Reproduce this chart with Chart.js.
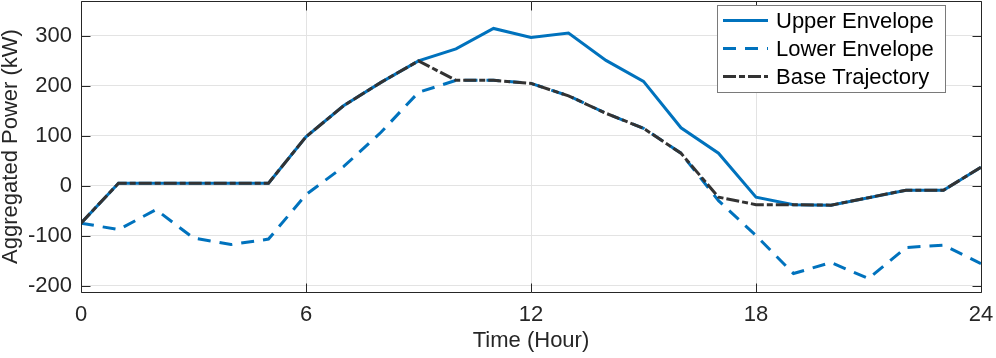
<!DOCTYPE html>
<html>
<head>
<meta charset="utf-8">
<script src="https://cdn.jsdelivr.net/npm/chart.js@4.4.1/dist/chart.umd.min.js"></script>
<style>
  html, body { margin: 0; padding: 0; background: #fff; }
  #wrap { width: 996px; height: 358px; }
</style>
</head>
<body>
<div id="wrap"><canvas id="c" width="996" height="358"></canvas></div>
<script>
const hours = [0,1,2,3,4,5,6,7,8,9,10,11,12,13,14,15,16,17,18,19,20,21,22,23,24];
const upperEnvelope = [-75, 5, 5, 5, 5, 5, 98, 160, 207, 250, 274, 315, 297, 306, 251, 209, 116, 65, -23, -38, -39, -24, -9, -9, 37];
const lowerEnvelope = [-75, -88, -48, -105, -118, -107, -18, 38, 107, 187, 211, 211, 205, 180, 145, 115, 65, -30, -100, -176, -154, -186, -124, -119, -156];
const baseTrajectory = [-75, 5, 5, 5, 5, 5, 98, 160, 207, 250, 211, 211, 205, 180, 145, 115, 65, -23, -38, -38, -39, -24, -9, -9, 37];
const xTicks = [0, 6, 12, 18, 24];
const yTicks = [-200, -100, 0, 100, 200, 300];
const seriesNames = ['Upper Envelope', 'Lower Envelope', 'Base Trajectory'];

const BLUE = '#0072BD';
const DARK = '#333333';
const FONT = "'Liberation Sans', Arial, Helvetica, sans-serif";

const pts = arr => hours.map((h, i) => ({x: h, y: arr[i]}));

const boxPlugin = {
  id: 'boxPlugin',
  afterDatasetsDraw(chart) {
    const {ctx, chartArea: a, scales} = chart;
    ctx.save();
    ctx.strokeStyle = '#262626';
    ctx.lineWidth = 1;
    const L = Math.round(a.left) + 0.5, R = Math.round(a.right) + 0.5;
    const T = Math.round(a.top) + 0.5, B = Math.round(a.bottom) + 0.5;
    ctx.beginPath();
    ctx.rect(L, T, R - L, B - T);
    ctx.stroke();
    const tl = 9;
    ctx.beginPath();
    xTicks.forEach(v => {
      const x = Math.round(scales.x.getPixelForValue(v)) + 0.5;
      ctx.moveTo(x, B); ctx.lineTo(x, B - tl);
      ctx.moveTo(x, T); ctx.lineTo(x, T + tl);
    });
    yTicks.forEach(v => {
      const y = Math.round(scales.y.getPixelForValue(v)) + 0.5;
      ctx.moveTo(L, y); ctx.lineTo(L + tl, y);
      ctx.moveTo(R, y); ctx.lineTo(R - tl, y);
    });
    ctx.stroke();

    // legend
    const lx = 717, ly = 5, lw = 228, lh = 87;
    ctx.fillStyle = '#fff';
    ctx.fillRect(lx, ly, lw, lh);
    ctx.strokeStyle = '#7a7a7a';
    ctx.strokeRect(lx + 0.5, ly + 0.5, lw, lh);
    const rows = [20.5, 48.5, 76.5];
    chart.data.datasets.forEach((ds, i) => {
      const y = rows[i];
      ctx.beginPath();
      ctx.strokeStyle = ds.borderColor;
      ctx.lineWidth = ds.borderWidth;
      ctx.setLineDash(ds.borderDash || []);
      ctx.moveTo(723, y); ctx.lineTo(768, y);
      ctx.stroke();
      ctx.setLineDash([]);
      ctx.fillStyle = '#000';
      ctx.font = '22px ' + FONT;
      ctx.textBaseline = 'middle';
      ctx.textAlign = 'left';
      ctx.fillText(ds.label, 776, y + 1);
    });
    ctx.restore();
  }
};

new Chart(document.getElementById('c'), {
  type: 'line',
  data: {
    datasets: [
      { label: seriesNames[0], data: pts(upperEnvelope), borderColor: BLUE, borderWidth: 3, pointRadius: 0, tension: 0, fill: false, order: 2 },
      { label: seriesNames[1], data: pts(lowerEnvelope), borderColor: BLUE, borderWidth: 3, borderDash: [13, 9], pointRadius: 0, tension: 0, fill: false, order: 1 },
      { label: seriesNames[2], data: pts(baseTrajectory), borderColor: DARK, borderWidth: 3, borderDash: [13, 3, 6, 3], pointRadius: 0, tension: 0, fill: false, order: 0 }
    ]
  },
  options: {
    responsive: false,
    animation: false,
    devicePixelRatio: 1,
    layout: { padding: { left: 0, right: 15, top: 1, bottom: 0 } },
    plugins: { legend: { display: false }, tooltip: { enabled: false } },
    scales: {
      x: {
        type: 'linear', min: 0, max: 24,
        afterBuildTicks: s => { s.ticks = xTicks.map(v => ({value: v})); },
        afterFit: s => { s.height = 66; s.paddingLeft = 0; s.paddingRight = 0; },
        grid: { color: '#e3e3e3', lineWidth: 1, drawTicks: false },
        border: { display: false },
        ticks: { color: '#262626', font: { family: FONT, size: 22 }, padding: 10, maxRotation: 0 },
        title: { display: true, text: 'Time (Hour)', color: '#262626', font: { family: FONT, size: 22, lineHeight: 1 }, padding: { top: 0, bottom: 6 } }
      },
      y: {
        type: 'linear', min: -213, max: 370,
        afterBuildTicks: s => { s.ticks = yTicks.map(v => ({value: v})); },
        afterFit: s => { s.width = 81; s.paddingTop = 0; s.paddingBottom = 0; },
        grid: { color: '#e3e3e3', lineWidth: 1, drawTicks: false },
        border: { display: false },
        ticks: { color: '#262626', font: { family: FONT, size: 22 }, padding: 9 },
        title: { display: true, text: 'Aggregated Power (kW)', color: '#262626', font: { family: FONT, size: 22, lineHeight: 1 }, padding: { top: 0, bottom: 0 } }
      }
    }
  },
  plugins: [boxPlugin]
});
</script>
</body>
</html>
